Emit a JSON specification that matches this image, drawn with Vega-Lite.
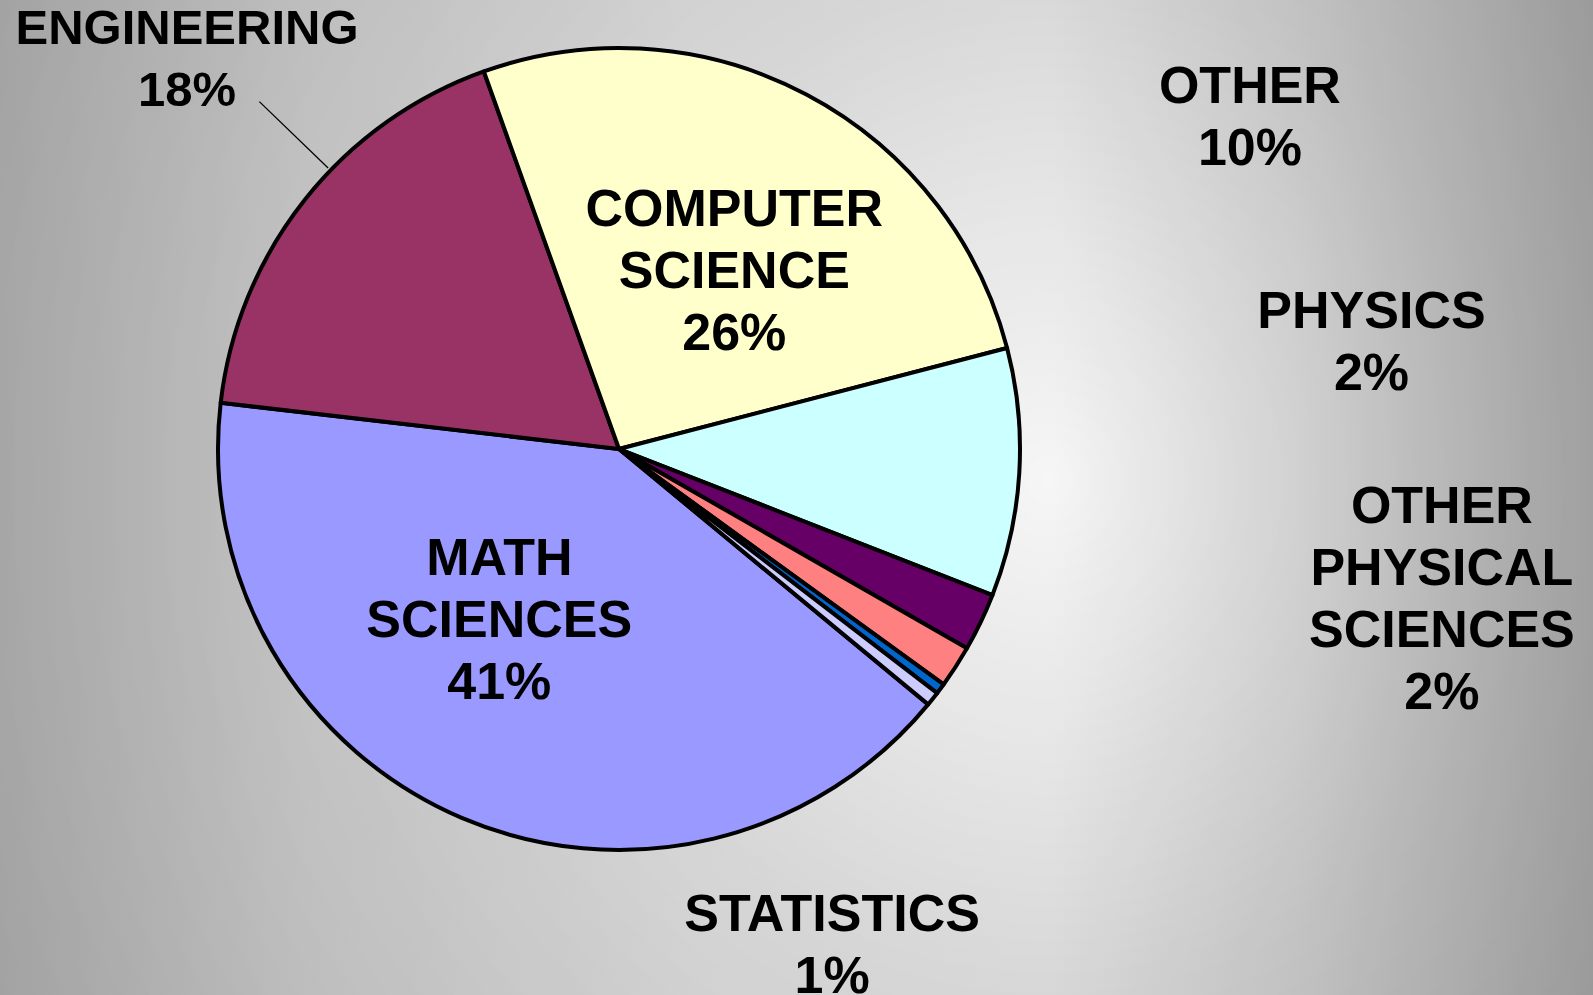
{
  "$schema": "https://vega.github.io/schema/vega-lite/v6.json",
  "width": 1950,
  "height": 3084,
  "autosize": {"type": "none"},
  "padding": {"left": -356, "top": -1093, "right": -1, "bottom": -996},
  "config": {"view": {"stroke": null}},
  "layer": [
    {
      "data": {"values": [{"bg": 1}]},
      "mark": {
        "type": "rect",
        "fill": {
          "gradient": "linear",
          "x1": 0.1826, "y1": 0.5, "x2": 1.0, "y2": 0.5,
          "stops": [
            {"offset": 0, "color": "#d2d2d2"},
            {"offset": 0.188, "color": "#e8e8e8"},
            {"offset": 0.439, "color": "#f3f3f3"},
            {"offset": 0.659, "color": "#f6f6f6"},
            {"offset": 0.816, "color": "#dedede"},
            {"offset": 1, "color": "#b8b8b8"}
          ]
        }
      },
      "encoding": {}
    },
    {
      "data": {"values": [{"bg": 2}]},
      "mark": {
        "type": "rect",
        "fill": {
          "gradient": "radial",
          "x1": 0.6397, "y1": 0.5101, "r1": 0,
          "x2": 0.6397, "y2": 0.5101, "r2": 0.389,
          "stops": [
            {"offset": 0, "color": "rgba(0,0,0,0)"},
            {"offset": 0.417, "color": "rgba(0,0,0,0.12)"},
            {"offset": 0.833, "color": "rgba(0,0,0,0.2)"},
            {"offset": 1, "color": "rgba(0,0,0,0.23)"}
          ]
        }
      },
      "encoding": {}
    },
    {
      "data": {
        "values": [
          {"category": "MATH SCIENCES", "value": 40.85, "label": "MATH\nSCIENCES\n41%", "ord": 1},
          {"category": "ENGINEERING", "value": 17.69, "label": "ENGINEERING\n18%", "ord": 2},
          {"category": "COMPUTER SCIENCE", "value": 26.42, "label": "COMPUTER\nSCIENCE\n26%", "ord": 3},
          {"category": "OTHER", "value": 9.99, "label": "OTHER\n10%", "ord": 4},
          {"category": "PHYSICS", "value": 2.34, "label": "PHYSICS\n2%", "ord": 5},
          {"category": "OTHER PHYSICAL SCIENCES", "value": 1.71, "label": "OTHER\nPHYSICAL\nSCIENCES\n2%", "ord": 6},
          {"category": "UNLABELED", "value": 0.43, "label": "", "ord": 7},
          {"category": "STATISTICS", "value": 0.57, "label": "STATISTICS\n1%", "ord": 8}
        ]
      },
      "encoding": {
        "theta": {"field": "value", "type": "quantitative", "stack": true, "scale": {"range": [2.26125, 8.54444]}},
        "order": {"field": "ord", "type": "quantitative"},
        "detail": {"field": "category", "type": "nominal"}
      },
      "layer": [
        {
          "mark": {"type": "arc", "outerRadius": 401, "stroke": "#000000", "strokeWidth": 4, "strokeJoin": "round"},
          "encoding": {
            "color": {
              "field": "category", "type": "nominal", "legend": null,
              "scale": {
                "domain": ["MATH SCIENCES", "ENGINEERING", "COMPUTER SCIENCE", "OTHER", "PHYSICS", "OTHER PHYSICAL SCIENCES", "UNLABELED", "STATISTICS"],
                "range": ["#9999FF", "#993366", "#FFFFCC", "#CCFFFF", "#660066", "#FF8080", "#0066CC", "#CCCCFF"]
              }
            }
          }
        },
        {
          "mark": {"type": "arc", "outerRadius": 500, "innerRadius": 404, "thetaOffset": -0.4590, "fill": null, "stroke": "#000000", "strokeWidth": 1.3, "strokeDash": [0, 1101, 120]},
          "encoding": {
            "strokeOpacity": {"condition": {"test": "datum.category === 'ENGINEERING'", "value": 1}, "value": 0}
          }
        },
        {
          "mark": {"type": "text", "radius": 590, "dx": 30, "dy": -38, "font": "Liberation Sans", "fontWeight": "bold", "fontSize": 49, "lineHeight": 62, "lineBreak": "\n", "align": "center", "baseline": "alphabetic", "color": "#000000"},
          "encoding": {"text": {"condition": {"test": "datum.category === 'ENGINEERING'", "field": "label", "type": "nominal"}, "value": ""}}
        },
        {
          "mark": {"type": "text", "radius": 251, "dx": -2, "dy": -1, "font": "Liberation Sans", "fontWeight": "bold", "fontSize": 52, "lineHeight": 62, "lineBreak": "\n", "align": "center", "baseline": "alphabetic", "color": "#000000"},
          "encoding": {"text": {"condition": {"test": "datum.category === 'COMPUTER SCIENCE'", "field": "label", "type": "nominal"}, "value": ""}}
        },
        {
          "mark": {"type": "text", "radius": 165, "dx": -55, "dy": -26, "font": "Liberation Sans", "fontWeight": "bold", "fontSize": 52, "lineHeight": 62, "lineBreak": "\n", "align": "center", "baseline": "alphabetic", "color": "#000000"},
          "encoding": {"text": {"condition": {"test": "datum.category === 'MATH SCIENCES'", "field": "label", "type": "nominal"}, "value": ""}}
        },
        {
          "mark": {"type": "text", "radius": 610, "dx": 22, "dy": -382, "font": "Liberation Sans", "fontWeight": "bold", "fontSize": 52, "lineHeight": 62, "lineBreak": "\n", "align": "center", "baseline": "alphabetic", "color": "#000000"},
          "encoding": {"text": {"condition": {"test": "datum.category === 'OTHER'", "field": "label", "type": "nominal"}, "value": ""}}
        },
        {
          "mark": {"type": "text", "radius": 627, "dx": 187, "dy": -392, "font": "Liberation Sans", "fontWeight": "bold", "fontSize": 52, "lineHeight": 62, "lineBreak": "\n", "align": "center", "baseline": "alphabetic", "color": "#000000"},
          "encoding": {"text": {"condition": {"test": "datum.category === 'PHYSICS'", "field": "label", "type": "nominal"}, "value": ""}}
        },
        {
          "mark": {"type": "text", "radius": 731, "dx": 209, "dy": -323, "font": "Liberation Sans", "fontWeight": "bold", "fontSize": 52, "lineHeight": 62, "lineBreak": "\n", "align": "center", "baseline": "alphabetic", "color": "#000000"},
          "encoding": {"text": {"condition": {"test": "datum.category === 'OTHER PHYSICAL SCIENCES'", "field": "label", "type": "nominal"}, "value": ""}}
        },
        {
          "mark": {"type": "text", "radius": 468, "dx": -153, "dy": 190, "font": "Liberation Sans", "fontWeight": "bold", "fontSize": 52, "lineHeight": 62, "lineBreak": "\n", "align": "center", "baseline": "alphabetic", "color": "#000000"},
          "encoding": {"text": {"condition": {"test": "datum.category === 'STATISTICS'", "field": "label", "type": "nominal"}, "value": ""}}
        }
      ]
    }
  ]
}
